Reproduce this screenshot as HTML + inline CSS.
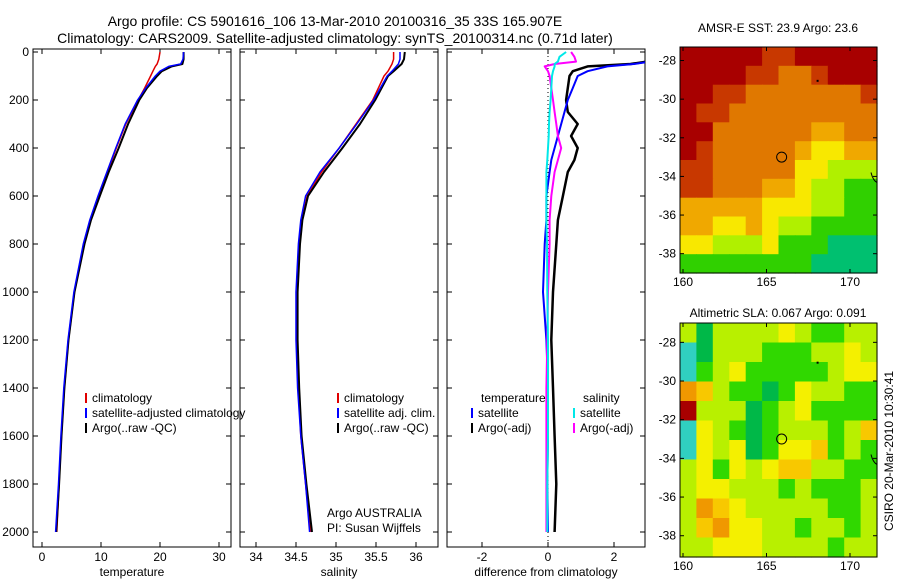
<!DOCTYPE html>
<html><head><meta charset="utf-8"><style>
body{margin:0;background:#fff;}
svg{display:block;font-family:"Liberation Sans",sans-serif;}
text{font-size:12px;fill:#000;}
</style></head><body>
<svg id="fig" width="900" height="580" viewBox="0 0 900 580">
<text x="335" y="26" text-anchor="middle" style="font-size:14px">Argo profile: CS 5901616_106 13-Mar-2010 20100316_35 33S 165.907E</text>
<text x="335" y="43" text-anchor="middle" style="font-size:14px">Climatology: CARS2009. Satellite-adjusted climatology: synTS_20100314.nc (0.71d later)</text>
<text x="778" y="32" text-anchor="middle">AMSR-E SST: 23.9 Argo: 23.6</text>
<text x="778" y="317" text-anchor="middle">Altimetric SLA: 0.067 Argo: 0.091</text>
<text transform="translate(893,451) rotate(-90)" text-anchor="middle">CSIRO 20-Mar-2010 10:30:41</text>
<g id="g"></g>
</svg>
<script>
// ---------- data ----------
const depthTicks=[0,200,400,600,800,1000,1200,1400,1600,1800,2000];
const tempTicks=[0,10,20,30];
const salTicks=[34,34.5,35,35.5,36];
const diffTicks=[-2,0,2];
const lonTicks=[160,165,170];
const latTicks=[-28,-30,-32,-34,-36,-38];

const tDepth=[0,30,50,60,80,100,150,200,300,400,500,600,700,800,1000,1200,1400,1600,1800,2000];
const tClim=[20,19.8,19.5,19.2,18.8,18.4,17.4,16.3,14.2,12.6,11.1,9.6,8.2,7.1,5.5,4.5,3.8,3.3,2.9,2.5];
const tSat=[24,23.9,23.5,21.5,20,19.2,17.6,16.2,14.1,12.5,11,9.5,8.1,7.0,5.4,4.4,3.7,3.2,2.8,2.3];
const tArgo=[24,24,23.8,22,20.3,19.5,17.8,16.5,14.6,13.0,11.3,9.8,8.3,7.2,5.5,4.5,3.8,3.3,2.9,2.4];

const sDepth=[0,30,50,80,100,200,300,400,500,600,700,800,1000,1200,1400,1600,1800,2000];
const sClim=[35.72,35.72,35.7,35.65,35.6,35.46,35.25,35.04,34.82,34.64,34.57,34.54,34.52,34.51,34.53,34.56,34.62,34.68];
const sSat=[35.8,35.8,35.78,35.7,35.64,35.47,35.26,35.04,34.8,34.62,34.56,34.53,34.5,34.5,34.52,34.56,34.62,34.67];
const sArgo=[35.86,35.85,35.82,35.72,35.65,35.49,35.3,35.08,34.85,34.65,34.58,34.55,34.52,34.52,34.54,34.57,34.63,34.7];

const dDepth=[0,20,40,50,60,80,100,150,200,250,300,350,400,450,500,600,700,800,1000,1200,1400,1600,1800,2000];
const dTSat=[3.2,3.2,3.1,2.6,1.8,1.2,0.9,0.75,0.6,0.5,0.4,0.3,0.2,0.1,0.05,-0.05,-0.05,-0.1,-0.15,-0.05,0,0,-0.02,0];
const dTArgo=[3.1,3.1,3.0,2.5,1.2,0.75,0.65,0.6,0.55,0.6,0.9,0.7,0.9,0.8,0.6,0.45,0.3,0.25,0.15,0.1,0.15,0.2,0.25,0.2];
const dSSat=[0.55,0.35,0.3,0.2,0.2,0.15,0.12,0.1,0.08,0.05,0.03,0.02,0.0,-0.02,-0.05,-0.05,-0.05,-0.03,-0.02,0,0,0,-0.02,-0.02];
const dSArgo=[0.7,0.8,0.85,0.2,-0.1,0.0,0.05,0.1,0.15,0.2,0.25,0.3,0.4,0.3,0.2,0.1,0.05,0.05,0.0,-0.02,-0.05,-0.05,-0.05,-0.05];

const sstGrid=["000001100000","000011221000","001122222221","011222222222","002222223322","012222234433","112222244555","112223345566","333334445566","334434556666","445554666777","666666667777"];
const slaGrid=["575555456655","875556665545","865466666544","235667645566","055576546666","845676555653","845476443656","546454335566","544555656665","523455555665","532445565565","554445555655"];
const sstPal=["#a80000","#c83800","#e07800","#f0a800","#f8e800","#b0f000","#30d000","#00c070"];
const slaPal=["#a80000","#d05000","#f09800","#f8c800","#f4f000","#b8f000","#30d800","#00b848","#30d0c0"];

// ---------- helpers ----------
const NS="http://www.w3.org/2000/svg";
const G=document.getElementById('g');
function el(tag,attrs,parent){const e=document.createElementNS(NS,tag);for(const k in attrs)e.setAttribute(k,attrs[k]);(parent||G).appendChild(e);return e;}
function lin(d0,d1,r0,r1){return v=>r0+(v-d0)*(r1-r0)/(d1-d0);}
const yDepth=lin(0,2000,52,532);

function panel(name,x0,x1,xs,xticks,ylabels,title){
  const g=el('g',{});
  
  
  el('rect',{x:x0,y:49,width:x1-x0,height:498,fill:'none',stroke:'#000','stroke-width':1},g);
  xticks.forEach(t=>{const x=xs(t);
    el('line',{x1:x,x2:x,y1:547,y2:542,stroke:'#000'},g);
    el('line',{x1:x,x2:x,y1:49,y2:54,stroke:'#000'},g);
    const tx=el('text',{x:x,y:561,'text-anchor':'middle'},g);tx.textContent=t;
    
    
  });
  depthTicks.forEach(d=>{const y=yDepth(d);
    el('line',{x1:x0,x2:x0+5,y1:y,y2:y,stroke:'#000'},g);
    el('line',{x1:x1,x2:x1-5,y1:y,y2:y,stroke:'#000'},g);
    if(ylabels){const tx=el('text',{x:x0-4,y:y+4,'text-anchor':'end'},g);tx.textContent=d;
      
      }
  });
  const tt=el('text',{x:(x0+x1)/2,y:576,'text-anchor':'middle'},g);tt.textContent=title;
  
  
  return g;
}
function line(g,xs,vals,depths,color,w,name){
  const pts=vals.map((v,i)=>xs(v).toFixed(1)+','+yDepth(depths[i]).toFixed(1)).join(' ');
  const p=el('polyline',{points:pts,fill:'none',stroke:color,'stroke-width':w,'stroke-linejoin':'round'},g);
  
  
}
function legend(g,x,y,color,label,name){
  el('line',{x1:x,x2:x,y1:y-9,y2:y+1,stroke:color,'stroke-width':2},g);
  const t=el('text',{x:x+6,y:y},g);t.textContent=label;
  
  
}

// Panel 1 temperature
const xT=lin(0,30,42,219);
const p1=panel('temperature',33,231,xT,tempTicks,true,'temperature');
const c1=el('svg',{x:33,y:49,width:198,height:498,viewBox:'33 49 198 498',overflow:'hidden'},p1);
line(c1,xT,tClim,tDepth,'#e00000',1.5,'temp-climatology-line');
line(c1,xT,tArgo,tDepth,'#000',2,'temp-argo-line');
line(c1,xT,tSat,tDepth,'#0000ff',1.5,'temp-satellite-line');
legend(p1,86,402,'#e00000','climatology','legend-climatology');
legend(p1,86,417,'#0000ff','satellite-adjusted climatology','legend-satellite');
legend(p1,86,432,'#000','Argo(..raw -QC)','legend-argo');

// Panel 2 salinity
const xS=lin(34,36,256,416);
const p2=panel('salinity',240,438,xS,salTicks,false,'salinity');
const c2=el('svg',{x:240,y:49,width:198,height:498,viewBox:'240 49 198 498',overflow:'hidden'},p2);
line(c2,xS,sClim,sDepth,'#e00000',1.5,'sal-climatology-line');
line(c2,xS,sArgo,sDepth,'#000',2,'sal-argo-line');
line(c2,xS,sSat,sDepth,'#0000ff',1.5,'sal-satellite-line');
legend(p2,338,402,'#e00000','climatology','legend-sal-climatology');
legend(p2,338,417,'#0000ff','satellite adj. clim.','legend-sal-satellite');
legend(p2,338,432,'#000','Argo(..raw -QC)','legend-sal-argo');
const a1=el('text',{x:327,y:517},p2);a1.textContent='Argo AUSTRALIA';


const a2=el('text',{x:327,y:532},p2);a2.textContent='PI: Susan Wijffels';



// Panel 3 difference
const xD=lin(-2,2,482,614);
const p3=panel('difference',447,645,xD,diffTicks,false,'difference from climatology');
el('line',{x1:xD(0),x2:xD(0),y1:52,y2:547,stroke:'#000','stroke-dasharray':'1,3'},p3);
const c3=el('svg',{x:447,y:49,width:198,height:498,viewBox:'447 49 198 498',overflow:'hidden'},p3);
line(c3,xD,dTArgo,dDepth,'#000',2.5,'diff-temp-argo-line');
line(c3,xD,dTSat,dDepth,'#0000ff',2,'diff-temp-satellite-line');
line(c3,xD,dSArgo,dDepth,'#ff00ff',2,'diff-sal-argo-line');
line(c3,xD,dSSat,dDepth,'#00e8e8',2,'diff-sal-satellite-line');
const lt=el('text',{x:481,y:402},p3);lt.textContent='temperature';


const ls=el('text',{x:583,y:402},p3);ls.textContent='salinity';


legend(p3,472,417,'#0000ff','satellite','legend-diff-temp-satellite');
legend(p3,472,432,'#000','Argo(-adj)','legend-diff-temp-argo');
legend(p3,574,417,'#00e8e8','satellite','legend-diff-sal-satellite');
legend(p3,574,432,'#ff00ff','Argo(-adj)','legend-diff-sal-argo');

// Maps
function map(name,y0,y1,lat0,lat1,grid,pal){
  const x0=680,x1=877;
  const xs=lin(160,170,683,850), ys=lin(lat0,lat1,y0,y1);
  const g=el('g',{});
  
  
  const rows=grid.length, cols=grid[0].length, cw=(x1-x0)/cols, ch=(y1-y0)/rows;
  grid.forEach((r,i)=>{for(let j=0;j<cols;j++){
    el('rect',{x:(x0+j*cw).toFixed(1),y:(y0+i*ch).toFixed(1),width:(cw+0.6).toFixed(1),height:(ch+0.6).toFixed(1),fill:pal[+r[j]]},g);}});
  el('rect',{x:x0,y:y0,width:x1-x0,height:y1-y0,fill:'none',stroke:'#000'},g);
  lonTicks.forEach(t=>{const x=xs(t);
    el('line',{x1:x,x2:x,y1:y1,y2:y1-4,stroke:'#000'},g);
    el('line',{x1:x,x2:x,y1:y0,y2:y0+4,stroke:'#000'},g);
    const tx=el('text',{x:x,y:y1+13,'text-anchor':'middle'},g);tx.textContent=t;
    
    });
  latTicks.forEach(t=>{const y=ys(t);
    el('line',{x1:x1,x2:x1-4,y1:y,y2:y,stroke:'#000'},g);
    el('line',{x1:x0,x2:x0+4,y1:y,y2:y,stroke:'#000'},g);
    const tx=el('text',{x:x0-4,y:y+4,'text-anchor':'end'},g);tx.textContent=t;
    
    });
  const c=el('circle',{cx:xs(165.907),cy:ys(-33),r:5,fill:'none',stroke:'#000'},g);
  
  
  el('path',{d:`M${x1-6} ${ys(-33.8)} q2 8 6 10`,fill:'none',stroke:'#000'},g);
  el('rect',{x:xs(168),y:ys(-29),width:2,height:2,fill:'#000'},g);
}
map('sst-map',47,273,-27.3,-39.0,sstGrid,sstPal);
map('sla-map',323,557,-27.0,-39.1,slaGrid,slaPal);
</script>
</body></html>
